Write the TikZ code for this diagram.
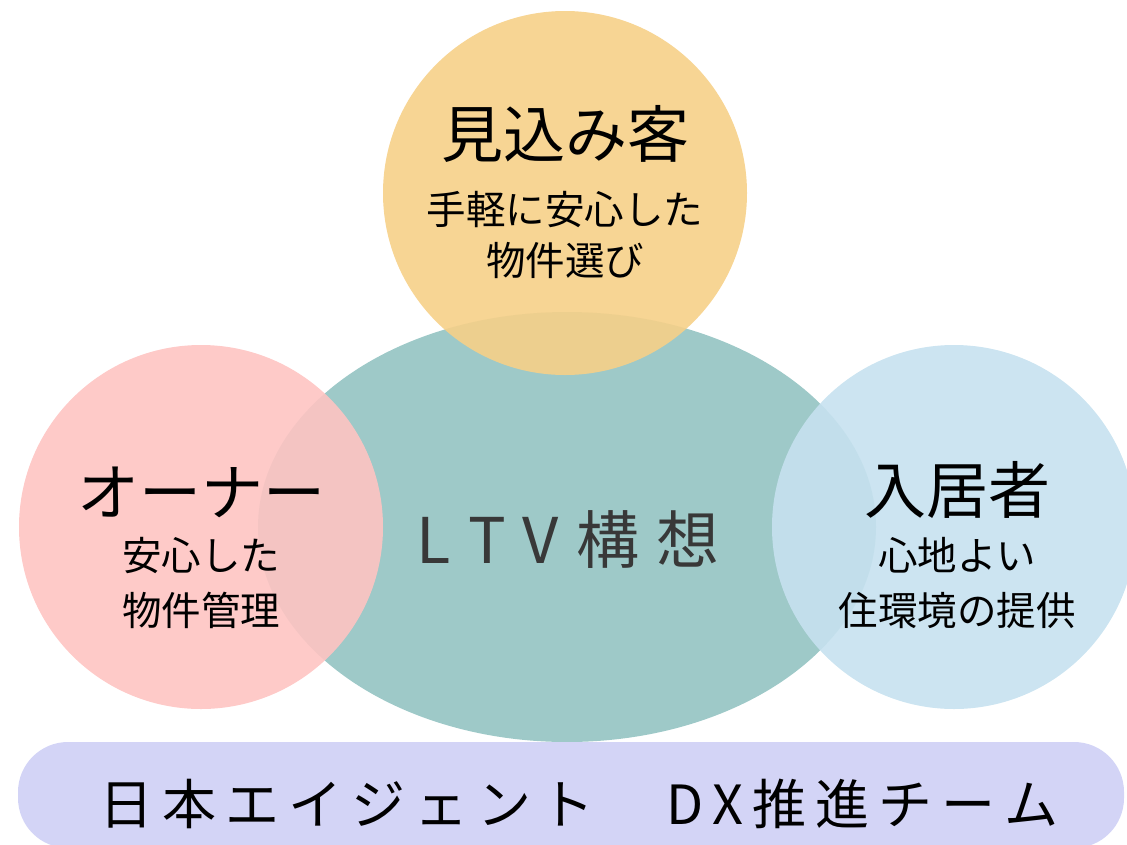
\documentclass[tikz,border=0pt]{standalone}
\usepackage{fontspec}
\setmainfont{Noto Sans CJK JP}
\newfontfamily\jp{Noto Sans CJK JP}
\definecolor{cTeal}{HTML}{9EC9C8}
\definecolor{cYellow}{HTML}{F6D088}
\definecolor{cPink}{HTML}{FEC4C2}
\definecolor{cBlue}{HTML}{C6E1EF}
\definecolor{cBar}{HTML}{D3D4F6}
\definecolor{cLTV}{HTML}{383838}
\newcommand{\tkA}{\kern17pt }
\newcommand{\tkB}{\kern9pt }
\begin{document}
\begin{tikzpicture}[x=1pt,y=-1pt,
  titletext/.style={inner sep=0pt,font=\jp\fontsize{62}{70}\selectfont,text=black},
  subtext/.style={inner sep=0pt,font=\jp\fontsize{39.5}{46}\selectfont,text=black},
  bubble/.style={fill opacity=0.9}]
\useasboundingbox (0,0) rectangle (1127,844);
% central ellipse
\fill[cTeal] (567,527) ellipse [x radius=309pt, y radius=215pt];
% circles
\fill[cYellow,bubble] (565,193) circle [radius=182pt];
\fill[cPink,bubble] (201,527) circle [radius=182pt];
\fill[cBlue,bubble] (954,527) circle [radius=182pt];
% bottom bar
\fill[cBar,rounded corners=50pt] (18,742) rectangle (1124,844+4);
% texts
\node[titletext] (t1) at (565,134) {見込み客};
\node[subtext] (s1a) at (565,210) {手軽に安心した};
\node[subtext] (s1b) at (565,260) {物件選び};
\node[titletext] (t2) at (201,492) {オーナー};
\node[subtext] (s2a) at (201,555) {安心した};
\node[subtext] (s2b) at (201,610) {物件管理};
\node[titletext] (t3) at (957,490) {入居者};
\node[subtext] (s3a) at (957,555) {心地よい};
\node[subtext] (s3b) at (957,610) {住環境の提供};
\node[inner sep=0pt,font=\jp\fontsize{63}{70}\selectfont,text=cLTV] (ltv) at (568,540)
  {L\tkA T\tkA V\tkA 構\tkA 想};
\node[inner sep=0pt,font=\jp\fontsize{54}{60}\selectfont,text=black] (team) at (579,804)
  {日\tkB 本\tkB エ\tkB イ\tkB ジ\tkB ェ\tkB ン\tkB ト\tkB 　\tkB D\tkB X\tkB 推\tkB 進\tkB チ\tkB ー\tkB ム};
\end{tikzpicture}
\end{document}
